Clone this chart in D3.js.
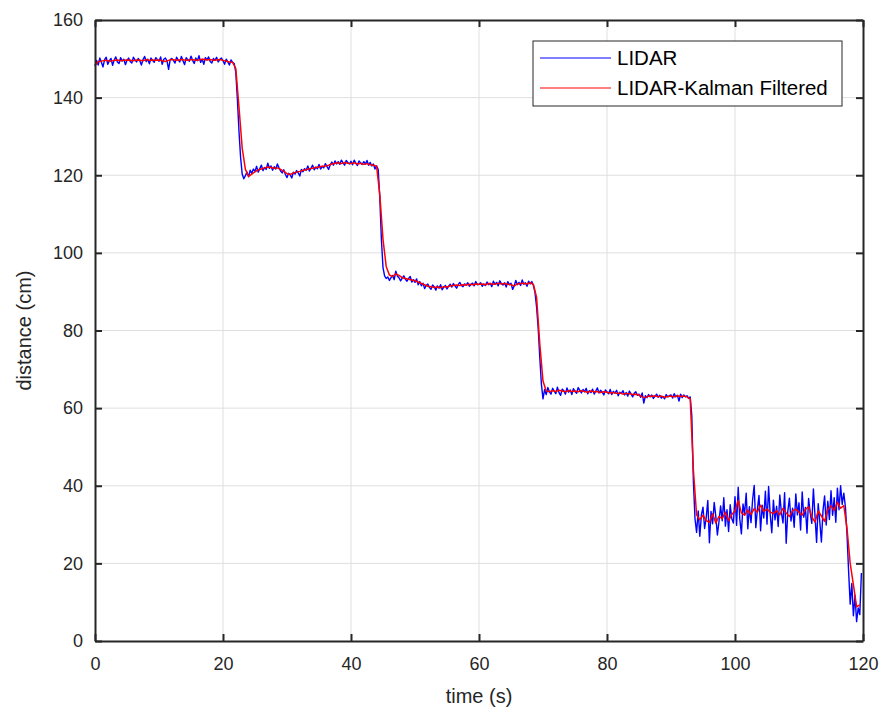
<!DOCTYPE html>
<html>
<head>
<meta charset="utf-8">
<script src="https://cdn.jsdelivr.net/npm/d3@7"></script>
<style>
  body { margin: 0; background: #fff; }
  svg { font-family: Arial, "Liberation Sans", Helvetica, sans-serif; }
</style>
</head>
<body>
<svg id="draw-here"></svg>
<script>
// sample spacing (seconds) of each recorded series
const lidarStep = 0.25;
const kalmanStep = 0.5;

// raw LIDAR readings (cm), one row = 5 s
const lidar = [
  148.2, 149.6, 148.4, 150.2, 149.1, 147.9, 149.8, 150.4, 148.6, 149.5, 150.1, 148.3, 149.7, 150.5, 149.2, 148.8, 150.3, 149.4, 149.9, 148.5,
  149.6, 150.2, 149.3, 148.9, 150.4, 149.7, 149.2, 150.1, 149.5, 148.4, 149.8, 150.6, 149.3, 149.9, 148.7, 150.2, 149.6, 149.1, 150.3, 149.8,
  149.4, 150.5, 148.6, 149.9, 150.2, 149.5, 147.3, 149.8, 150.1, 149.6, 148.9, 150.4, 149.7, 149.2, 150.6, 149.5, 148.5, 150.3, 149.8, 149.4,
  150.7, 149.6, 148.8, 150.2, 149.5, 150.8, 149.1, 149.9, 148.6, 150.3, 149.7, 150.5, 149.3, 148.9, 150.1, 149.6, 150.4, 149.2, 149.8, 150.2,
  149.5, 148.6, 149.9, 149.2, 148.4, 149.7, 149.1, 148.8, 146.5, 139.5, 131.2, 124.6, 120.3, 119.1, 119.9, 120.8, 119.6, 121.3, 120.5, 121.6,
  121.0, 122.3, 120.8, 121.7, 122.6, 121.2, 122.0, 121.5, 123.1, 121.8, 122.4, 121.3, 122.2, 121.6, 122.9, 121.9, 121.1, 120.6, 121.4, 120.2,
  119.4, 120.5, 120.1, 119.3, 120.8, 120.3, 121.2, 120.6, 119.8, 121.5, 120.9, 121.7, 121.3, 122.4, 121.1, 121.8, 122.6, 121.4, 122.1, 121.7,
  122.8, 121.6, 122.3, 121.9, 123.0, 122.2, 121.5, 122.7, 123.4, 122.6, 123.7, 122.9, 123.5, 122.8, 123.9, 123.2, 122.6, 123.8, 123.3, 122.9,
  123.6, 122.7, 123.9, 123.1, 122.5, 123.7, 123.2, 122.8, 123.5, 122.9, 123.8, 122.6, 123.3, 122.4, 122.9, 121.6, 122.4, 121.5, 114.2, 103.5,
  96.2, 94.1, 93.4, 93.8, 92.9, 93.6, 94.2, 93.1, 95.3, 94.0, 93.6, 92.8, 93.5, 94.1, 93.2, 92.7, 93.4, 93.9, 92.5, 93.1,
  92.4, 93.3, 91.8, 92.6, 91.5, 92.2, 90.8, 91.6, 92.0, 91.1, 90.6, 91.7, 91.3, 90.4, 91.5, 90.9, 91.8, 90.5, 91.2, 91.6,
  90.7, 91.4, 91.9, 91.2, 92.1, 91.5, 90.9, 91.8, 92.4, 91.6, 91.3, 92.0, 91.7, 92.3, 91.4, 91.9, 92.2, 91.5, 92.6, 91.8,
  91.9, 92.3, 91.4, 92.0, 91.6, 92.5, 91.8, 92.2, 91.3, 92.7, 91.9, 92.4, 91.5, 92.8, 92.1, 91.7, 92.3, 91.2, 92.6, 91.8,
  92.2, 90.6, 91.5, 92.9, 91.8, 92.4, 91.6, 93.0, 91.9, 92.3, 91.4, 92.7, 92.0, 92.6, 91.6, 89.8, 86.0, 80.5, 73.0, 66.2,
  62.4, 64.8, 63.5, 65.3, 64.2, 63.6, 65.1, 64.4, 63.7, 65.4, 64.0, 63.3, 64.9, 64.5, 63.6, 65.2, 64.1, 64.7, 63.5, 65.0,
  64.3, 63.8, 65.3, 64.6, 63.9, 64.8, 64.2, 65.1, 63.7, 64.5, 64.0, 64.9, 63.6, 64.4, 65.2, 63.9, 64.6, 64.1, 63.4, 64.7,
  64.2, 63.7, 64.8, 63.5, 64.3, 63.9, 64.6, 63.2, 64.1, 63.8, 64.5, 63.4, 64.0, 63.1, 64.4, 63.7, 62.9, 63.8, 64.2, 63.3,
  63.6, 62.8, 63.9, 61.3, 63.2, 62.7, 63.5, 62.9, 63.4, 62.5, 63.1, 63.6, 62.8, 63.3, 62.6, 63.0, 62.4, 63.5, 62.9, 63.2,
  63.4, 62.6, 63.7, 62.9, 63.3, 61.8, 63.6, 62.7, 63.4, 62.9, 63.2, 62.5, 62.9, 58.0, 41.0, 31.5, 28.0, 33.5, 27.0, 32.5,
  34.5, 29.0, 31.8, 36.2, 25.3, 33.4, 30.2, 35.7, 32.1, 27.3, 30.8, 34.8, 31.0, 36.9, 29.6, 33.8, 28.2, 35.1, 31.5, 30.4,
  37.2, 29.8, 39.6, 31.4, 27.6, 35.3, 32.8, 38.1, 28.9, 34.6, 30.5, 36.4, 40.1, 29.2, 33.9, 37.5, 28.4, 35.0, 31.7, 38.6,
  30.1, 39.8, 32.6, 27.9, 36.3, 31.2, 34.7, 29.5, 37.6, 33.1, 30.4, 38.2, 25.2, 33.4, 36.8, 30.9, 34.2, 29.3, 37.9, 32.5,
  35.6, 28.6, 38.4, 31.9, 34.4, 27.8, 36.7, 33.0, 30.3, 39.2, 32.2, 25.4, 35.4, 30.7, 25.5, 33.6, 37.4, 29.9, 36.0, 31.3,
  38.7, 32.4, 36.9, 30.6, 39.4, 33.8, 40.0, 35.2, 38.1, 34.6, 27.5, 18.0, 9.5, 14.8, 6.5, 11.8, 5.0, 8.5, 6.8, 17.5
];

// Kalman filtered estimate (cm), one row = 5 s
const kalman = [
  148.2, 149.3, 149.4, 149.6, 149.5, 149.4, 149.6, 149.7, 149.5, 149.6,
  149.7, 149.6, 149.5, 149.7, 149.6, 149.5, 149.8, 149.6, 149.7, 149.6,
  149.7, 149.5, 149.3, 149.6, 149.8, 149.7, 149.6, 149.8, 149.7, 149.6,
  149.8, 149.7, 149.6, 149.8, 149.9, 149.7, 149.8, 149.6, 149.7, 149.8,
  149.6, 149.4, 149.2, 149.1, 147.5, 137.5, 127.0, 121.5, 119.7, 120.3,
  120.9, 121.4, 121.6, 121.9, 122.1, 122.0, 121.8, 121.9, 121.5, 121.0,
  120.4, 120.2, 120.6, 120.8, 121.0, 121.3, 121.4, 121.7, 121.8, 122.0,
  122.1, 122.3, 122.4, 122.6, 122.9, 123.1, 123.2, 123.0, 123.3, 123.1,
  123.0, 123.2, 122.9, 123.1, 122.8, 123.0, 122.7, 122.6, 122.3, 115.0,
  103.5, 96.5, 94.3, 93.9, 94.6, 94.2, 93.6, 93.4, 93.2, 93.0,
  92.8, 92.5, 92.1, 91.8, 91.4, 91.3, 91.1, 91.2, 91.0, 91.3,
  91.2, 91.5, 91.6, 91.7, 91.6, 91.8, 91.7, 91.9, 91.8, 92.0,
  91.9, 92.0, 91.8, 92.1, 92.0, 91.9, 92.2, 92.0, 92.1, 91.9,
  91.8, 91.5, 92.0, 92.1, 92.2, 92.0, 92.3, 91.9, 88.5, 76.5,
  67.0, 64.4, 64.2, 64.5, 64.3, 64.6, 64.4, 64.2, 64.5, 64.3,
  64.4, 64.2, 64.5, 64.3, 64.1, 64.4, 64.2, 64.3, 64.0, 64.2,
  64.1, 63.9, 64.0, 63.8, 63.9, 63.6, 63.8, 63.7, 63.5, 63.6,
  63.4, 62.9, 62.7, 63.1, 63.0, 63.2, 62.9, 63.1, 62.8, 63.0,
  63.1, 62.9, 63.2, 63.0, 63.1, 62.9, 62.4, 44.0, 32.5, 31.2,
  32.4, 31.0, 30.6, 32.8, 30.4, 32.1, 31.5, 33.2, 31.0, 32.6,
  33.5, 36.2, 33.0, 32.4, 33.8, 32.6, 34.1, 33.2, 35.0, 33.4,
  34.0, 33.2, 32.8, 33.6, 32.5, 34.2, 33.0, 32.1, 33.5, 34.0,
  33.2, 32.4, 33.9, 34.6, 32.0, 30.6, 33.5, 32.2, 30.8, 33.9,
  34.8, 33.6, 35.8, 34.2, 34.9, 29.0, 20.0, 14.5, 8.8, 9.3
];

const xTicks = [0, 20, 40, 60, 80, 100, 120];
const yTicks = [0, 20, 40, 60, 80, 100, 120, 140, 160];
const seriesNames = ["LIDAR", "LIDAR-Kalman Filtered"];
const seriesColors = ["#0000ff", "#ff0000"];

const width = 880, height = 715;
const margin = {top: 20, right: 17, bottom: 74, left: 95};
const axisColor = "#262626";

let svg = d3.select('#draw-here')
  .attr('width', width)
  .attr('height', height);

let x = d3.scaleLinear().domain([0, 120]).range([margin.left, width - margin.right]);
let y = d3.scaleLinear().domain([0, 160]).range([height - margin.bottom, margin.top]);

// grid
let grid = svg.append('g').attr('stroke', '#dfdfdf').attr('stroke-width', 1);
grid.selectAll('.gx').data(xTicks.slice(1, -1)).enter().append('line')
  .attr('x1', d => x(d)).attr('x2', d => x(d))
  .attr('y1', y(0)).attr('y2', y(160));
grid.selectAll('.gy').data(yTicks.slice(1, -1)).enter().append('line')
  .attr('x1', x(0)).attr('x2', x(120))
  .attr('y1', d => y(d)).attr('y2', d => y(d));

// lines
let lidarPts = lidar.map((v, i) => [i * lidarStep, v]);
let kalmanPts = kalman.map((v, i) => [i * kalmanStep, v]);

let line = d3.line().x(d => x(d[0])).y(d => y(d[1]));

svg.append('path').datum(lidarPts)
  .attr('fill', 'none')
  .attr('stroke', seriesColors[0])
  .attr('stroke-width', 1.4)
  .attr('stroke-linejoin', 'round')
  .attr('d', line);

svg.append('path').datum(kalmanPts)
  .attr('fill', 'none')
  .attr('stroke', seriesColors[1])
  .attr('stroke-width', 1.5)
  .attr('stroke-linejoin', 'round')
  .attr('d', line);

// axes (MATLAB style: box on, ticks inside)
let xAxis = svg.append('g')
  .attr('transform', `translate(0,${y(0)})`)
  .call(d3.axisBottom(x).tickValues(xTicks).tickSizeInner(-7).tickSizeOuter(0).tickPadding(16));
let yAxis = svg.append('g')
  .attr('transform', `translate(${x(0)},0)`)
  .call(d3.axisLeft(y).tickValues(yTicks).tickSizeInner(-7).tickSizeOuter(0).tickPadding(12));
let xTop = svg.append('g')
  .attr('transform', `translate(0,${y(160)})`)
  .call(d3.axisTop(x).tickValues(xTicks).tickSizeInner(-7).tickSizeOuter(0).tickFormat(''));
let yRight = svg.append('g')
  .attr('transform', `translate(${x(120)},0)`)
  .call(d3.axisRight(y).tickValues(yTicks).tickSizeInner(-7).tickSizeOuter(0).tickFormat(''));

[xAxis, yAxis, xTop, yRight].forEach(g => {
  g.select('.domain').attr('stroke', axisColor).attr('stroke-width', 2);
  g.selectAll('.tick line').attr('stroke', axisColor).attr('stroke-width', 2);
  g.selectAll('.tick text').attr('fill', axisColor).style('font-size', '18px');
});

// axis labels
svg.append('text')
  .attr('x', (x(0) + x(120)) / 2)
  .attr('y', 703)
  .attr('text-anchor', 'middle')
  .attr('fill', axisColor)
  .style('font-size', '20px')
  .text('time (s)');

svg.append('text')
  .attr('transform', `translate(31,${(y(0) + y(160)) / 2}) rotate(-90)`)
  .attr('text-anchor', 'middle')
  .attr('fill', axisColor)
  .style('font-size', '20px')
  .text('distance (cm)');

// legend
let legend = svg.append('g').attr('transform', 'translate(533,41)');
legend.append('rect')
  .attr('width', 309).attr('height', 65)
  .attr('fill', '#fff')
  .attr('stroke', axisColor)
  .attr('stroke-width', 1);

seriesNames.forEach((name, i) => {
  let row = legend.append('g').attr('transform', `translate(0,${17 + i * 30})`);
  row.append('line')
    .attr('x1', 7).attr('x2', 78)
    .attr('stroke', seriesColors[i])
    .attr('stroke-width', 1.2);
  row.append('text')
    .attr('x', 84).attr('dy', '0.36em')
    .attr('fill', '#000')
    .style('font-size', '20.5px')
    .text(name);
});
</script>
</body>
</html>
